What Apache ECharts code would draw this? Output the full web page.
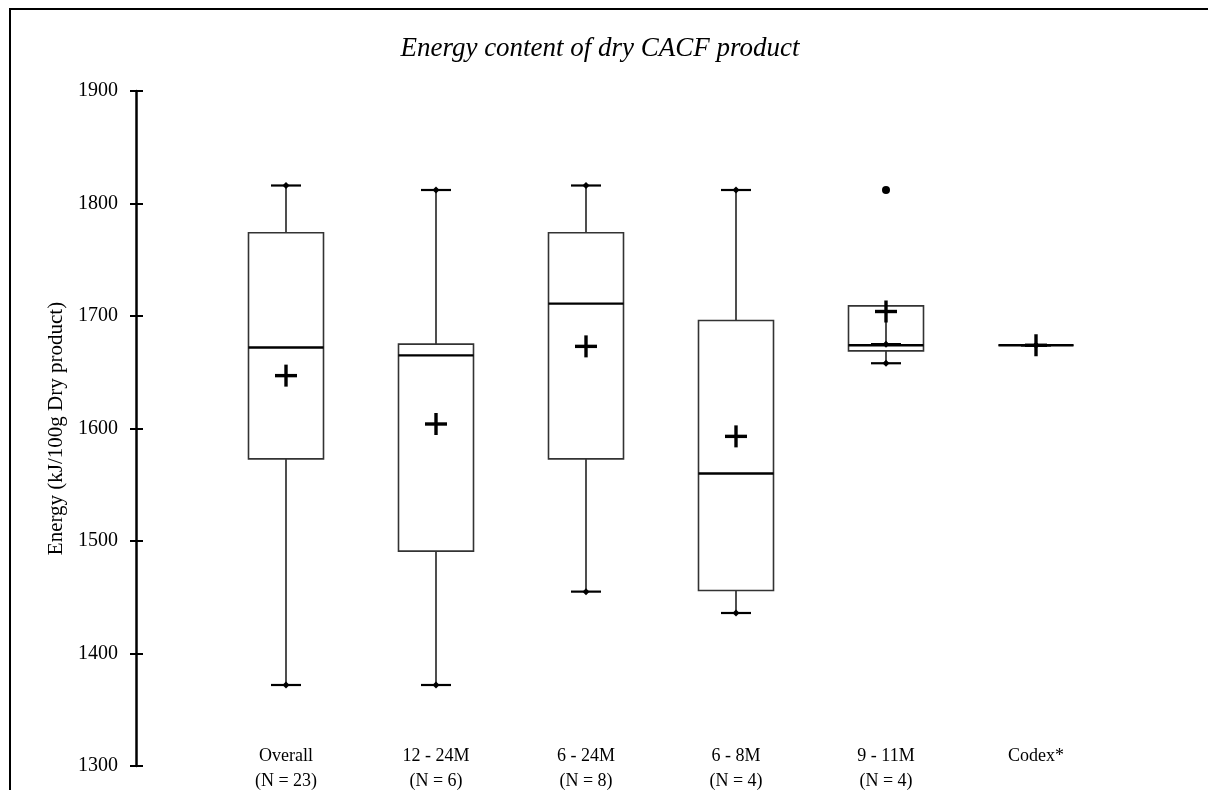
<!DOCTYPE html>
<html>
<head>
<meta charset="utf-8">
<script src="https://cdn.jsdelivr.net/npm/echarts@6/dist/echarts.min.js"></script>
<style>
  html, body { margin: 0; padding: 0; background: #fff; }
  #chart { width: 1208px; height: 790px; }
</style>
</head>
<body>
<div id="chart"></div>
<script>
// Groups of CACF products and their energy distribution (kJ/100g dry product)
const groups = ['Overall\n(N = 23)', '12 - 24M\n(N = 6)', '6 - 24M\n(N = 8)', '6 - 8M\n(N = 4)', '9 - 11M\n(N = 4)', 'Codex*'];
const whiskerLow  = [1372, 1372, 1455, 1436, 1658, 1674];
const q1          = [1573, 1491, 1573, 1456, 1669, 1674];
const median      = [1672, 1665, 1711, 1560, 1674, 1674];
const q3          = [1774, 1675, 1774, 1696, 1709, 1674];
const whiskerHigh = [1816, 1812, 1816, 1812, 1675, 1674];
const means       = [1647, 1604, 1673, 1593, 1704, 1674];
// outlier points: [group index, value]
const outliers = [[4, 1812]];

const yMin = 1300, yMax = 1900, yStep = 100;
const serif = "'Liberation Serif', 'Times New Roman', serif";

// category slots: an empty slot at each end keeps the boxes off the axis
const categories = [''].concat(groups, ['']);

const boxData = groups.map((g, i) => [i + 1, whiskerLow[i], q1[i], median[i], q3[i], whiskerHigh[i], means[i]]);
const outlierData = outliers.map(o => [o[0] + 1, o[1]]);

function renderBox(params, api) {
  const xi = api.value(0);
  const pLow = api.coord([xi, api.value(1)]);
  const pQ1 = api.coord([xi, api.value(2)]);
  const pMed = api.coord([xi, api.value(3)]);
  const pQ3 = api.coord([xi, api.value(4)]);
  const pHigh = api.coord([xi, api.value(5)]);
  const pMean = api.coord([xi, api.value(6)]);
  const step = api.coord([xi + 1, api.value(3)])[0] - pMed[0];
  const cx = pMed[0];
  const half = step * 0.25;
  const capHalf = 15;
  const d = 3.5;
  const plusHalf = 11;
  const lineStyle = { stroke: '#222', lineWidth: 1.6, fill: null };
  const children = [];

  // whiskers
  children.push({ type: 'line', shape: { x1: cx, y1: pQ3[1], x2: cx, y2: pHigh[1] }, style: lineStyle });
  children.push({ type: 'line', shape: { x1: cx, y1: pQ1[1], x2: cx, y2: pLow[1] }, style: lineStyle });
  // box
  children.push({
    type: 'rect',
    shape: { x: cx - half, y: pQ3[1], width: half * 2, height: pQ1[1] - pQ3[1] },
    style: { stroke: '#333', lineWidth: 1.6, fill: null }
  });
  // median
  children.push({ type: 'line', shape: { x1: cx - half, y1: pMed[1], x2: cx + half, y2: pMed[1] }, style: { stroke: '#000', lineWidth: 2.4 } });
  // caps with diamonds
  [pLow, pHigh].forEach(p => {
    children.push({ type: 'line', shape: { x1: cx - capHalf, y1: p[1], x2: cx + capHalf, y2: p[1] }, style: { stroke: '#000', lineWidth: 2.2 } });
    children.push({ type: 'polygon', shape: { points: [[cx, p[1] - d], [cx + d, p[1]], [cx, p[1] + d], [cx - d, p[1]]] }, style: { fill: '#000' } });
  });
  // mean marker
  children.push({ type: 'line', shape: { x1: cx - plusHalf, y1: pMean[1], x2: cx + plusHalf, y2: pMean[1] }, style: { stroke: '#000', lineWidth: 3.4 } });
  children.push({ type: 'line', shape: { x1: cx, y1: pMean[1] - plusHalf, x2: cx, y2: pMean[1] + plusHalf }, style: { stroke: '#000', lineWidth: 3.4 } });

  return { type: 'group', children: children };
}

const gridBox = { left: 136, right: 22, top: 91, bottom: 24, containLabel: false, outerBoundsMode: 'none' };
const tickShift = 7; // ticks cross the axis line: 7px inside, 6px outside

const chart = echarts.init(document.getElementById('chart'), null, { renderer: 'canvas' });
chart.setOption({
  animation: false,
  backgroundColor: '#fff',
  title: {
    text: 'Energy content of dry CACF product',
    left: 595,
    textAlign: 'center',
    top: 30,
    textStyle: { fontFamily: serif, fontStyle: 'italic', fontWeight: 'normal', fontSize: 27, color: '#000' }
  },
  graphic: [{
    type: 'rect',
    silent: true,
    shape: { x: 10, y: 9, width: 1260, height: 860 },
    style: { fill: null, stroke: '#000', lineWidth: 2 }
  }],
  // second grid carries the plain axis line
  grid: [Object.assign({}, gridBox), Object.assign({}, gridBox)],
  xAxis: [{
    type: 'category',
    gridIndex: 0,
    data: categories,
    boundaryGap: false,
    axisLine: { show: false },
    axisTick: { show: false },
    splitLine: { show: false },
    axisLabel: {
      interval: 0,
      margin: -22,
      verticalAlign: 'top',
      fontFamily: serif,
      fontSize: 18,
      lineHeight: 25,
      color: '#000'
    }
  }, {
    type: 'value',
    gridIndex: 1,
    min: 0,
    max: 1,
    show: false
  }],
  yAxis: [{
    type: 'value',
    gridIndex: 0,
    min: yMin,
    max: yMax,
    interval: yStep,
    offset: -tickShift,
    name: 'Energy (kJ/100g Dry product)',
    nameLocation: 'middle',
    nameRotate: 90,
    nameGap: 62 + tickShift,
    nameTextStyle: { fontFamily: serif, fontSize: 21, color: '#000' },
    axisLine: { show: false },
    axisTick: { show: true, length: 13, lineStyle: { color: '#000', width: 2 } },
    axisLabel: { fontFamily: serif, fontSize: 20, color: '#000', margin: 18 + tickShift, formatter: v => String(v) },
    splitLine: { show: false }
  }, {
    type: 'value',
    gridIndex: 1,
    min: yMin,
    max: yMax,
    interval: yStep,
    position: 'left',
    axisLine: { show: true, lineStyle: { color: '#000', width: 2.5 } },
    axisTick: { show: false },
    axisLabel: { show: false },
    splitLine: { show: false }
  }],
  series: [{
    type: 'custom',
    name: 'Energy',
    xAxisIndex: 0,
    yAxisIndex: 0,
    renderItem: renderBox,
    encode: { x: 0, y: [1, 2, 3, 4, 5, 6] },
    data: boxData,
    z: 3
  }, {
    type: 'scatter',
    name: 'Outliers',
    xAxisIndex: 0,
    yAxisIndex: 0,
    data: outlierData,
    symbol: 'circle',
    symbolSize: 8,
    itemStyle: { color: '#000', opacity: 1 },
    z: 4
  }]
});
</script>
</body>
</html>
